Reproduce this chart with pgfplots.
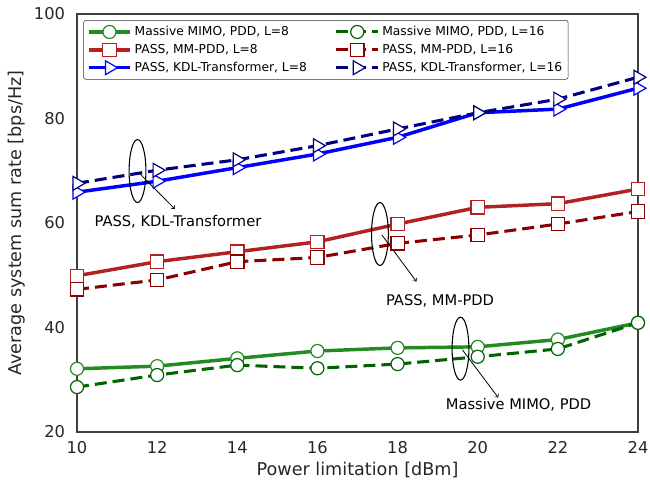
\documentclass[border=0pt]{standalone}
\usepackage{fontspec}
\setmainfont{DejaVu Sans}
\usepackage{pgfplots}
\pgfplotsset{compat=1.18}
\definecolor{gL8}{RGB}{34,139,34}
\definecolor{gL16}{RGB}{0,100,0}
\definecolor{rL8}{RGB}{178,34,34}
\definecolor{rL16}{RGB}{139,0,0}
\definecolor{bL8}{RGB}{0,0,255}
\definecolor{bL16}{RGB}{0,0,128}
\begin{document}
\begin{tikzpicture}
\useasboundingbox (-57.75pt,-38.25pt) rectangle (429.75pt,324pt);
\begin{axis}[
  at={(0,0)}, anchor=south west,
  scale only axis, width=420.75pt, height=313.5pt,
  xmin=10, xmax=24, ymin=20, ymax=100,
  xtick={10,12,...,24}, ytick={20,40,...,100},
  major tick length=0pt,
  axis line style={black!75, line width=0.9pt},
  /pgf/number format/assume math mode=true,
  ticklabel style={font=\fontsize{12.2}{14.5}\selectfont, text=black!85},
  yticklabel style={xshift=-5.5pt},
  xticklabel style={yshift=-3.5pt},
  label style={font=\fontsize{13.2}{16}\selectfont, text=black!85},
  xlabel={Power limitation [dBm]},
  ylabel={Average system sum rate [bps/Hz]},
  xlabel style={at={(axis description cs:0.5,-0.0909)}, anchor=center},
  ylabel style={at={(axis description cs:-0.1069,0.5)}, anchor=center},
  legend columns=2,
  legend style={at={(axis description cs:0.0112,0.9856)}, anchor=north west,
    font=\fontsize{9.2}{11}\selectfont, draw=black!80, rounded corners=2pt,
    row sep=1pt, inner sep=2.5pt,
    /tikz/every even column/.append style={column sep=19pt}},
  legend cell align=left,
  legend image code/.code={\draw[mark repeat=2,mark phase=2] plot coordinates {(0cm,0cm)(0.55cm,0cm)(1.1cm,0cm)};},
]
% Massive MIMO
\addplot[color=gL8, line width=2.6pt, mark=*, mark size=4.9pt, mark options={solid, fill=white, line width=0.9pt}]
coordinates {(10,32.1)(12,32.6)(14,34.1)(16,35.5)(18,36.1)(20,36.3)(22,37.7)(24,40.9)};
\addlegendentry{Massive MIMO, PDD, L=8}
\addplot[color=gL16, line width=2.3pt, dash pattern=on 9pt off 4.5pt, mark=*, mark size=4.9pt, mark options={solid, fill=white, line width=0.9pt}]
coordinates {(10,28.6)(12,30.9)(14,32.8)(16,32.2)(18,33.0)(20,34.4)(22,35.9)(24,40.9)};
\addlegendentry{Massive MIMO, PDD, L=16}
% PASS MM-PDD
\addplot[color=rL8, line width=2.6pt, mark=square*, mark size=5pt, mark options={solid, fill=white, line width=0.9pt}]
coordinates {(10,49.9)(12,52.6)(14,54.5)(16,56.4)(18,59.8)(20,63.0)(22,63.7)(24,66.5)};
\addlegendentry{PASS, MM-PDD, L=8}
\addplot[color=rL16, line width=2.3pt, dash pattern=on 9pt off 4.5pt, mark=square*, mark size=5pt, mark options={solid, fill=white, line width=0.9pt}]
coordinates {(10,47.3)(12,49.1)(14,52.6)(16,53.4)(18,56.1)(20,57.7)(22,59.8)(24,62.2)};
\addlegendentry{PASS, MM-PDD, L=16}
% PASS KDL-Transformer
\addplot[color=bL8, line width=2.6pt, mark=triangle*, mark size=6pt, mark options={solid, fill=white, line width=0.9pt, rotate=-90}]
coordinates {(10,65.9)(12,68.0)(14,70.6)(16,73.2)(18,76.4)(20,81.1)(22,81.8)(24,85.8)};
\addlegendentry{PASS, KDL-Transformer, L=8}
\addplot[color=bL16, line width=2.3pt, dash pattern=on 9pt off 4.5pt, mark=triangle*, mark size=6pt, mark options={solid, fill=white, line width=0.9pt, rotate=-90}]
coordinates {(10,67.6)(12,70.1)(14,72.1)(16,74.8)(18,78.0)(20,81.1)(22,83.7)(24,87.9)};
\addlegendentry{PASS, KDL-Transformer, L=16}
% annotations
\draw[line width=0.8pt] (axis cs:11.51,69.95) ellipse [x radius=6.3pt, y radius=23.6pt];
\draw[line width=0.8pt] (axis cs:17.56,57.9) ellipse [x radius=6.3pt, y radius=23.6pt];
\draw[line width=0.8pt] (axis cs:19.57,35.95) ellipse [x radius=6.3pt, y radius=23.6pt];
\draw[->, line width=0.6pt] (axis cs:11.56,69.5) -- (axis cs:12.44,62.7);
\draw[->, line width=0.6pt] (axis cs:17.61,57.7) -- (axis cs:18.47,48.8);
\draw[->, line width=0.6pt] (axis cs:19.62,35.7) -- (axis cs:20.51,26.6);
\node[font=\fontsize{11}{13}\selectfont] at (axis cs:12.52,60.2) {PASS, KDL-Transformer};
\node[font=\fontsize{11}{13}\selectfont] at (axis cs:19.06,45.1) {PASS, MM-PDD};
\node[font=\fontsize{11}{13}\selectfont] at (axis cs:21.02,25.2) {Massive MIMO, PDD};
\end{axis}
\end{tikzpicture}
\end{document}
